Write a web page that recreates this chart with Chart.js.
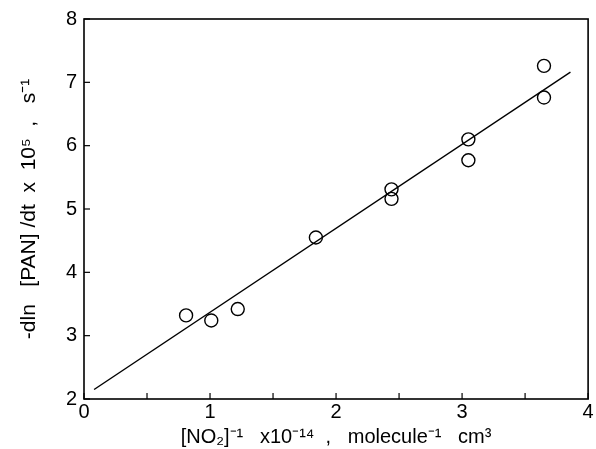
<!DOCTYPE html>
<html>
<head>
<meta charset="utf-8">
<script src="https://cdn.jsdelivr.net/npm/chart.js@4.4.1/dist/chart.umd.min.js"></script>
<style>
html,body{margin:0;padding:0;background:#fff;}
#wrap{width:596px;height:449px;}
</style>
</head>
<body>
<div id="wrap"><canvas id="c" width="596" height="449"></canvas></div>
<script>
// Measured points: [NO2]^-1 x 1e-14 vs -dln[PAN]/dt x 1e5
const xValues = [0.81, 1.01, 1.22, 1.84, 2.44, 2.44, 3.05, 3.05, 3.65, 3.65];
const yValues = [3.32, 3.24, 3.42, 4.55, 5.31, 5.16, 6.10, 5.77, 7.26, 6.76];
// Fitted straight line (end points)
const fitX = [0.08, 3.86];
const fitY = [2.15, 7.16];
const xTicks = [0, 1, 2, 3, 4];
const yTicks = [2, 3, 4, 5, 6, 7, 8];

const FONT = "'Liberation Sans', Arial, sans-serif";

const framePlugin = {
  id: 'frame',
  afterDraw(chart) {
    const {ctx, chartArea: a, scales} = chart;
    ctx.save();
    ctx.strokeStyle = '#000';
    ctx.lineWidth = 1.6;
    ctx.strokeRect(a.left, a.top, a.right - a.left, a.bottom - a.top);
    ctx.lineWidth = 1.2;
    scales.x.ticks.forEach(t => {
      const px = scales.x.getPixelForValue(t.value);
      ctx.beginPath();
      ctx.moveTo(px, a.bottom);
      ctx.lineTo(px, a.bottom - 6);
      ctx.stroke();
    });
    scales.y.ticks.forEach(t => {
      const py = scales.y.getPixelForValue(t.value);
      ctx.beginPath();
      ctx.moveTo(a.left, py);
      ctx.lineTo(a.left + 6, py);
      ctx.stroke();
    });
    ctx.restore();
  }
};

new Chart(document.getElementById('c'), {
  type: 'scatter',
  data: {
    datasets: [
      {
        data: xValues.map((x, i) => ({x: x, y: yValues[i]})),
        showLine: false,
        pointStyle: 'circle',
        pointRadius: 6.5,
        pointBorderColor: '#000',
        pointBackgroundColor: 'rgba(0,0,0,0)',
        pointBorderWidth: 1.4
      },
      {
        data: fitX.map((x, i) => ({x: x, y: fitY[i]})),
        showLine: true,
        borderColor: '#000',
        borderWidth: 1.4,
        pointRadius: 0
      }
    ]
  },
  options: {
    responsive: false,
    animation: false,
    layout: {padding: {top: 19, right: 5, left: 17, bottom: 0}},
    plugins: {legend: {display: false}, tooltip: {enabled: false}},
    scales: {
      x: {
        type: 'linear', min: 0, max: 4,
        grid: {display: false, drawTicks: false},
        border: {display: false},
        ticks: {
          stepSize: 0.5,
          autoSkip: false,
          maxRotation: 0,
          padding: 1,
          color: '#000',
          font: {family: FONT, size: 20},
          callback: v => (xTicks.includes(v) ? String(v) : '')
        },
        title: {
          display: true,
          text: '[NO\u2082]\u207B\u00B9   x10\u207B\u00B9\u2074  ,   molecule\u207B\u00B9   cm\u00B3',
          color: '#000',
          font: {family: FONT, size: 20},
          padding: {top: 0, bottom: 0}
        },
        afterFit(s) { s.height = 50; }
      },
      y: {
        type: 'linear', min: 2, max: 8,
        grid: {display: false, drawTicks: false},
        border: {display: false},
        ticks: {
          stepSize: 1,
          padding: 7,
          color: '#000',
          font: {family: FONT, size: 20},
          callback: v => (yTicks.includes(v) ? String(v) : '')
        },
        title: {
          display: true,
          text: '-dln   [PAN] /dt  x  10\u2075  ,   s\u207B\u00B9',
          color: '#000',
          font: {family: FONT, size: 21},
          padding: {top: 0, bottom: 4}
        },
        afterFit(s) { s.width = 67; }
      }
    }
  },
  plugins: [framePlugin]
});
</script>
</body>
</html>
